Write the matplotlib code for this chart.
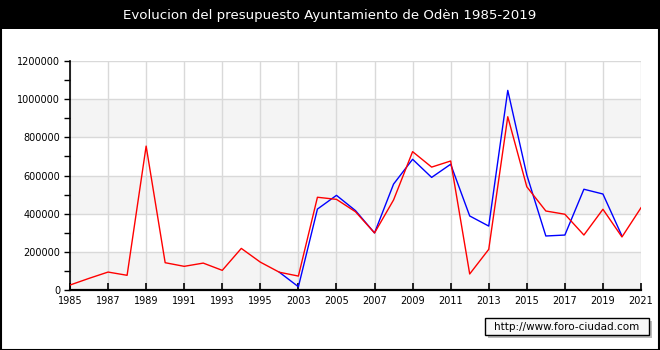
import matplotlib
matplotlib.use("Agg")
import matplotlib.pyplot as plt
from matplotlib.patches import Rectangle
from matplotlib.ticker import MultipleLocator, FixedLocator

years = ["1985", "1986", "1987", "1988", "1989", "1990", "1991", "1992", "1993", "1994",
         "1995", "2002", "2003", "2004", "2005", "2006", "2007", "2008", "2009", "2010",
         "2011", "2012", "2013", "2014", "2015", "2016", "2017", "2018", "2019", "2020", "2021"]

ingresos = [26000, 61000, 94000, 77000, 754000, 143000, 124000, 141000, 103000, 218000,
            146000, 93000, 73000, 486000, 475000, 410000, 299000, 472000, 725000, 644000,
            676000, 84000, 213000, 908000, 541000, 414000, 397000, 288000, 423000, 278000, 431000]

gastos = [None, None, None, None, None, None, None, None, None, None,
          None, 93000, 17000, 424000, 496000, 416000, 299000, 555000, 685000, 590000,
          659000, 388000, 335000, 1046000, 603000, 283000, 288000, 528000, 503000, 283000, None]

title = "Evolucion del presupuesto Ayuntamiento de Odèn 1985-2019"
watermark = "http://www.foro-ciudad.com"

W, H = 660, 350
fig = plt.figure(figsize=(W / 100, H / 100), dpi=100)
fig.patch.set_facecolor("white")

# title bar
bar_h = 29
fig.patches.append(Rectangle((0, 1 - bar_h / H), 1, bar_h / H, transform=fig.transFigure,
                             facecolor="black", edgecolor="none", zorder=0))
fig.text(0.5, 1 - 15 / H, title, color="white", ha="center", va="center", fontsize=9.6)
# outer border
fig.patches.append(Rectangle((0.5 / W, 0.5 / H), 1 - 1.5 / W, 1 - 1.5 / H, transform=fig.transFigure,
                             facecolor="none", edgecolor="black", linewidth=1.5, zorder=5))

ax = fig.add_axes([70 / W, 1 - 290 / H, (641 - 70) / W, (290 - 61) / H])
x = list(range(len(years)))

for lo in (0, 400000, 800000):
    ax.axhspan(lo, lo + 200000, color="#f4f4f4", zorder=0, linewidth=0)

gx = [xi for xi in x if xi % 2 == 0]
for xi in gx:
    ax.axvline(xi, color="#d9d9d9", linewidth=1, zorder=1)
for yv in range(200000, 1200001, 200000):
    ax.axhline(yv, color="#d9d9d9", linewidth=1, zorder=1)

gx_vals = [v if v is not None else float("nan") for v in gastos]
ax.plot(x, gx_vals, color="#0000ff", linewidth=1, zorder=3)
ax.plot(x, ingresos, color="#ff0000", linewidth=1, zorder=4)

ax.set_xlim(0, len(years) - 1)
ax.set_ylim(0, 1200000)
ax.xaxis.set_major_locator(FixedLocator(gx))
ax.set_xticklabels([years[i] for i in gx])
ax.yaxis.set_major_locator(MultipleLocator(200000))
ax.yaxis.set_minor_locator(MultipleLocator(100000))
ax.yaxis.set_major_formatter(matplotlib.ticker.FuncFormatter(lambda v, p: "%d" % v))

ax.tick_params(axis="x", direction="in", length=5, width=1.2, labelsize=7, pad=4)
ax.tick_params(axis="y", which="both", direction="out", length=4, width=1, labelsize=7, pad=3)
for s in ("top", "right"):
    ax.spines[s].set_visible(False)
ax.spines["left"].set_linewidth(1.2)
ax.spines["bottom"].set_linewidth(1.6)
ax.set_facecolor("white")

# watermark box
bx0, by0, bw, bh = 485, 318, 164, 17
fig.patches.append(Rectangle(((bx0 + 3) / W, 1 - (by0 + bh + 3) / H), bw / W, bh / H,
                             transform=fig.transFigure, facecolor="#bbbbbb", edgecolor="none", zorder=2))
fig.patches.append(Rectangle((bx0 / W, 1 - (by0 + bh) / H), bw / W, bh / H,
                             transform=fig.transFigure, facecolor="#f8f8f8", edgecolor="black",
                             linewidth=1, zorder=3))
fig.text((bx0 + bw / 2) / W, 1 - (by0 + bh / 2) / H, watermark, ha="center", va="center",
         fontsize=7.5, zorder=4)

fig.savefig("out.png", dpi=100)
